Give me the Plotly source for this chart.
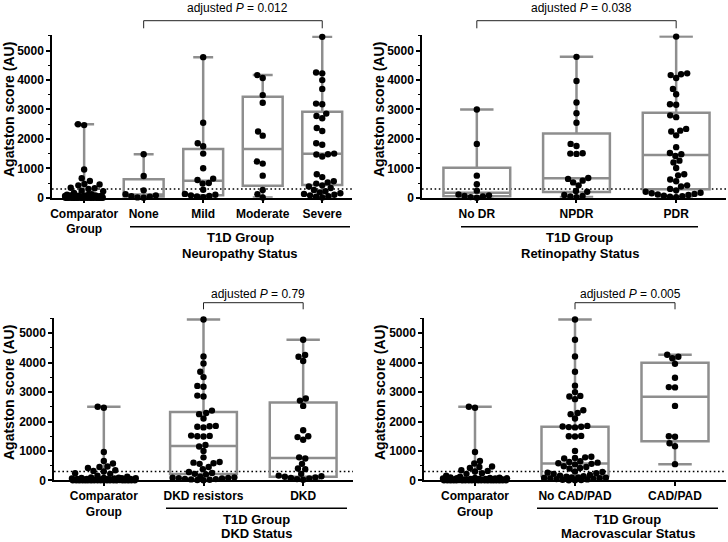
import numpy as np
import plotly.graph_objects as go

W, H = 728, 542
FONT = "Liberation Sans, Arial, Helvetica, sans-serif"
BOX_COLOR = "#8e8e8e"

# ---------------- categories ----------------
neuro_cats = ["Comparator<br>Group", "None", "Mild", "Moderate", "Severe"]
retino_cats = ["No DR", "NPDR", "PDR"]
dkd_cats = ["Comparator<br>Group", "DKD resistors", "DKD"]
macro_cats = ["Comparator<br>Group", "No CAD/PAD", "CAD/PAD"]

# ---------------- individual scores (AU) ----------------
comparator = [2500, 2470, 960, 660, 570, 470, 450, 420, 340, 320, 300, 240, 220,
              160, 120, 100, 90, 80, 80, 70, 70, 60, 60, 50, 50, 50, 40, 40, 40,
              30, 30, 30, 30, 20, 20, 20, 20, 10, 10, 10, 10, 10, 0, 0, 0, 0, 0,
              0, 0, 0, 0, 0, 0, 0, 0, 0, 0, 0, 0, 0, 0, 0]

neuro_none = [1480, 740, 250, 120, 80, 50, 30, 10, 0]
neuro_mild = [4780, 2550, 1850, 1750, 1500, 1000, 650, 600, 500, 480, 270, 130,
              100, 80, 60, 40, 20]
neuro_moderate = [4170, 4070, 3490, 3230, 2250, 2110, 1230, 1160, 750, 260, 120, 10]
neuro_severe = [5470, 4260, 4230, 4000, 3700, 3200, 3180, 2860, 2780, 2700, 2370,
                2270, 1850, 1800, 1500, 1480, 1470, 1400, 800, 700, 560, 520, 480,
                420, 380, 330, 260, 220, 180, 150, 130, 100, 80, 50, 30, 10]

retino_nodr = [3000, 1830, 750, 460, 240, 110, 80, 60, 40, 20, 0]
retino_npdr = [4790, 3970, 3240, 2870, 2550, 1830, 1760, 1510, 1500, 1490, 670,
               640, 580, 520, 420, 230, 200, 90, 60, 40, 20]
retino_pdr = [5480, 4230, 4200, 4170, 4070, 3700, 3520, 3180, 3160, 2800, 2740,
              2340, 2280, 2250, 2120, 1720, 1520, 1480, 1420, 1260, 1200, 1010,
              800, 760, 620, 560, 420, 380, 300, 250, 200, 170, 150, 130, 110, 90,
              70, 50, 30, 20]

dkd_resistors = [5470, 4210, 3970, 3690, 3510, 3210, 3180, 2880, 2850, 2370, 2290,
                 2250, 2100, 1850, 1840, 1820, 1800, 1520, 1510, 1500, 1490, 1200,
                 1150, 1000, 780, 620, 600, 580, 560, 450, 380, 280, 250, 220, 200,
                 120, 100, 90, 80, 70, 60, 50, 40, 30, 20, 10, 0]
dkd_present = [4780, 4260, 4200, 4060, 2780, 2710, 2530, 1700, 1500, 1470, 1380,
               780, 740, 560, 400, 380, 220, 160, 140, 120, 100, 80, 60, 40, 20]

macro_none = [5470, 4780, 4210, 3690, 3220, 3000, 2870, 2850, 2760, 2380, 2290,
              2250, 2100, 1850, 1830, 1820, 1810, 1800, 1510, 1500, 1490, 1000,
              800, 780, 760, 740, 650, 620, 600, 580, 560, 540, 480, 450, 420, 400,
              300, 280, 260, 240, 220, 180, 160, 140, 120, 100, 100, 90, 80, 70,
              60, 50, 40, 30, 20, 10, 0, 0]
macro_cadpad = [4270, 4200, 4150, 3960, 3490, 3170, 3160, 2530, 1500, 1480, 1260,
                1160, 550]

# ---------------- box statistics ----------------
neuro_q1 = [0, 30, 80, 410, 430]
neuro_median = [10, 110, 578, 1655, 1497]
neuro_q3 = [60, 630, 1655, 3435, 2925]

retino_q1 = [50, 190, 290]
retino_median = [170, 660, 1450]
retino_q3 = [1020, 2180, 2890]

dkd_q1 = [0, 215, 120]
dkd_median = [10, 1165, 760]
dkd_q3 = [60, 2325, 2650]

macro_q1 = [0, 145, 1330]
macro_median = [10, 575, 2840]
macro_q3 = [60, 1825, 3995]

p_texts = ["adjusted <i>P</i> = 0.012", "adjusted <i>P</i> = 0.038",
           "adjusted <i>P</i> = 0.79", "adjusted <i>P</i> = 0.005"]
group_titles = ["Neuropathy Status", "Retinopathy Status", "DKD Status",
                "Macrovascular Status"]

threshold = 300
Y_MAX = 5520


def px(x):
    return x / W


def py(y):
    return 1 - y / H


def swarm(vals, px_x, px_y, d=6.2, max_half=0.32):
    vals = np.asarray(vals, float)
    order = np.argsort(vals, kind="stable")
    limit = max_half * px_x
    placed = []
    off = np.zeros(len(vals))
    for i in order:
        y = vals[i] * px_y
        near = [(a, b) for a, b in placed if abs(b - y) < d]
        cands = [0.0]
        for a, b in near:
            dx = np.sqrt(d * d - (y - b) ** 2)
            cands += [a - dx, a + dx]
        cands = sorted(cands, key=lambda c: (round(abs(c), 6), c))
        chosen = None
        for c in cands:
            if abs(c) > limit + 1e-9:
                continue
            if all((c - a) ** 2 + (y - b) ** 2 >= d * d - 1e-6 for a, b in near):
                chosen = c
                break
        if chosen is None:
            grid = np.linspace(-limit, limit, 61)
            chosen = max(grid, key=lambda c: min((c - a) ** 2 + (y - b) ** 2 for a, b in near))
        placed.append((chosen, y))
        off[i] = chosen / px_x
    return off


panels = [
    dict(groups=[comparator, neuro_none, neuro_mild, neuro_moderate, neuro_severe],
         cats=neuro_cats, q1=neuro_q1, med=neuro_median, q3=neuro_q3,
         xpx=(52, 352), ypx=(35.4, 197.7), xr=(-0.54, 4.5), bracket=(1, 4),
         br_y=(20.7, 28.3), ptext_y=8.3, line_px=(130, 350), line_y=226.7,
         lab_y=(237.7, 253.3), title_xy=(9, 110)),
    dict(groups=[retino_nodr, retino_npdr, retino_pdr],
         cats=retino_cats, q1=retino_q1, med=retino_median, q3=retino_q3,
         xpx=(422, 726), ypx=(35.4, 197.7), xr=(-0.55, 2.5), bracket=(0, 2),
         br_y=(20.7, 28.3), ptext_y=8.3, line_px=(461, 698), line_y=226.7,
         lab_y=(237.7, 253.3), title_xy=(379, 110)),
    dict(groups=[comparator, dkd_resistors, dkd_present],
         cats=dkd_cats, q1=dkd_q1, med=dkd_median, q3=dkd_q3,
         xpx=(54, 353), ypx=(318.0, 480.3), xr=(-0.5, 2.5), bracket=(1, 2),
         br_y=(302.7, 309.3), ptext_y=294.3, line_px=(166, 347), line_y=508.3,
         lab_y=(519.5, 533.5), title_xy=(9, 393)),
    dict(groups=[comparator, macro_none, macro_cadpad],
         cats=macro_cats, q1=macro_q1, med=macro_median, q3=macro_q3,
         xpx=(424, 726), ypx=(318.0, 480.3), xr=(-0.51, 2.51), bracket=(1, 2),
         br_y=(302.7, 309.3), ptext_y=294.3, line_px=(537, 718), line_y=508.3,
         lab_y=(519.5, 533.5), title_xy=(380, 393)),
]

fig = go.Figure()
layout = dict(width=W, height=H,
              margin=dict(l=0, r=0, t=0, b=0, pad=0, autoexpand=False),
              paper_bgcolor="white", plot_bgcolor="white", showlegend=False,
              boxmode="overlay", font=dict(family=FONT, color="black"),
              shapes=[], annotations=[])

for k, p in enumerate(panels, start=1):
    xa, ya = ("x", "y") if k == 1 else (f"x{k}", f"y{k}")
    xkey, ykey = ("xaxis", "yaxis") if k == 1 else (f"xaxis{k}", f"yaxis{k}")
    n = len(p["groups"])
    pos = list(range(n))
    x0, x1 = p["xpx"]
    ytop, ybot = p["ypx"]
    px_x = (x1 - x0) / (p["xr"][1] - p["xr"][0])
    px_y = (ybot - ytop) / Y_MAX

    layout[xkey] = dict(domain=[px(x0), px(x1)], range=list(p["xr"]), anchor=ya,
                        showline=True, linecolor="black", linewidth=1.5,
                        ticks="outside", ticklen=4, tickwidth=1.5, tickcolor="black",
                        tickmode="array", tickvals=pos, ticktext=p["cats"],
                        tickfont=dict(size=12, family=FONT, weight="bold", color="black"),
                        showgrid=False, zeroline=False, fixedrange=True, automargin=False)
    layout[ykey] = dict(domain=[py(ybot), py(ytop)], range=[0, Y_MAX], anchor=xa,
                        showline=True, linecolor="black", linewidth=1.5,
                        ticks="outside", ticklen=4, tickwidth=1.5, tickcolor="black",
                        tickmode="linear", tick0=0, dtick=1000,
                        minor=dict(dtick=500, ticks="outside", ticklen=2.5,
                                   tickwidth=1.2, tickcolor="black", showgrid=False),
                        tickfont=dict(size=12, family=FONT, weight="bold", color="black"),
                        showgrid=False, zeroline=False, fixedrange=True, automargin=False)

    fig.add_trace(go.Box(
        x=pos, q1=p["q1"], median=p["med"], q3=p["q3"],
        lowerfence=[min(g) for g in p["groups"]],
        upperfence=[max(g) for g in p["groups"]],
        orientation="v", width=0.67, whiskerwidth=0.5, boxpoints=False,
        line=dict(color=BOX_COLOR, width=2.5), fillcolor="rgba(0,0,0,0)",
        xaxis=xa, yaxis=ya, hoverinfo="skip"))

    for i, g in enumerate(p["groups"]):
        off = swarm(g, px_x, px_y)
        fig.add_trace(go.Scatter(
            x=i + off, y=g, mode="markers",
            marker=dict(color="black", size=6.4, line=dict(width=0)),
            cliponaxis=False, xaxis=xa, yaxis=ya, hoverinfo="skip"))

    # threshold dotted line
    layout["shapes"].append(dict(type="line", xref=f"{xa} domain", yref=ya,
                                 x0=0, x1=1, y0=threshold, y1=threshold, layer="below",
                                 line=dict(color="black", width=1.5, dash="1.6px,2.6px")))
    # significance bracket
    b0, b1 = p["bracket"]
    yb_top, yb_bot = py(p["br_y"][0]), py(p["br_y"][1])
    layout["shapes"].append(dict(type="path", xref=xa, yref="paper",
                                 path=f"M {b0},{yb_bot} L {b0},{yb_top} L {b1},{yb_top} L {b1},{yb_bot}",
                                 line=dict(color="#222222", width=1)))
    layout["annotations"].append(dict(x=(b0 + b1) / 2, y=py(p["ptext_y"]), xref=xa,
                                      yref="paper", text=p_texts[k - 1], showarrow=False,
                                      xanchor="center", yanchor="middle", xshift=5,
                                      font=dict(size=12, family=FONT, color="black")))
    # T1D group line and labels
    lx0, lx1 = p["line_px"]
    layout["shapes"].append(dict(type="line", xref="paper", yref="paper",
                                 x0=px(lx0), x1=px(lx1), y0=py(p["line_y"]), y1=py(p["line_y"]),
                                 line=dict(color="black", width=1.5)))
    cx = px((lx0 + lx1) / 2)
    for txt, yy in zip(["T1D Group", group_titles[k - 1]], p["lab_y"]):
        layout["annotations"].append(dict(x=cx, y=py(yy), xref="paper", yref="paper",
                                          text=txt, showarrow=False, xanchor="center",
                                          yanchor="middle", borderpad=0,
                                          font=dict(size=13, family=FONT, weight="bold",
                                                    color="black")))
    # y-axis title
    tx, ty = p["title_xy"]
    layout["annotations"].append(dict(x=px(tx), y=py(ty), xref="paper", yref="paper",
                                      text="Agatston score (AU)", textangle=-90,
                                      showarrow=False, xanchor="center", yanchor="middle",
                                      font=dict(size=14, family=FONT, weight="bold",
                                                color="black")))

fig.update_layout(**layout)
fig.write_html("out.html", config={"displayModeBar": False},
               post_script="document.body.style.margin='0';document.body.style.overflow='hidden';")
